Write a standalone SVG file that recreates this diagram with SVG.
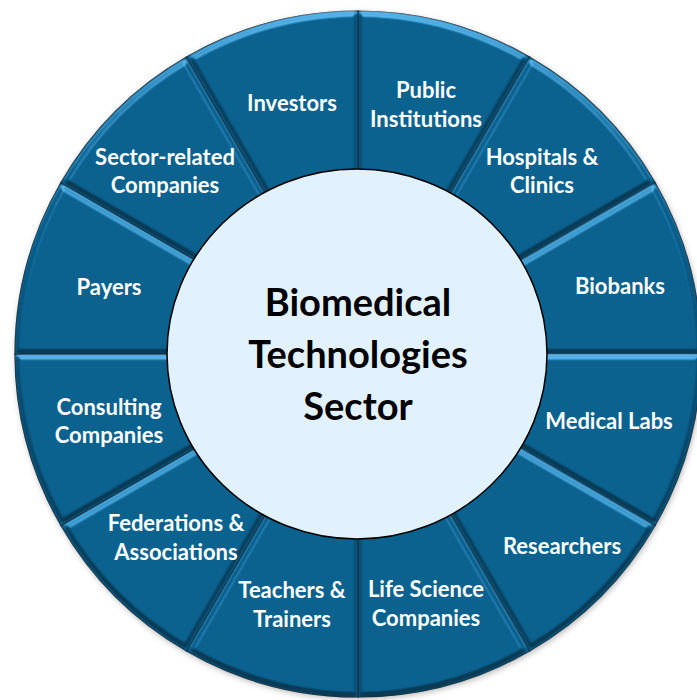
<svg xmlns="http://www.w3.org/2000/svg" width="697" height="700" viewBox="0 0 697 700">
<defs>
<style>
.seg{fill:#0B6290;stroke:#163F58;stroke-width:1.2;filter:url(#bevel)}
.lbl{font-family:Lato,"Liberation Sans",sans-serif;font-weight:700;font-size:22px;fill:#ffffff;text-anchor:middle}
.ctr{font-family:Lato,"Liberation Sans",sans-serif;font-weight:700;font-size:38px;fill:#000000;text-anchor:middle}
</style>
<filter id="bevel" x="-5%" y="-5%" width="110%" height="110%" color-interpolation-filters="sRGB">
<feMorphology in="SourceAlpha" operator="erode" radius="2.5" result="e"/>
<feGaussianBlur in="e" stdDeviation="1.5" result="b"/>
<feDiffuseLighting in="b" surfaceScale="3" diffuseConstant="1" lighting-color="#ffffff" result="d">
<feDistantLight azimuth="270" elevation="45"/>
</feDiffuseLighting>
<feComponentTransfer in="d" result="hi">
<feFuncR type="linear" slope="1.0" intercept="-0.707"/>
<feFuncG type="linear" slope="1.1" intercept="-0.778"/>
<feFuncB type="linear" slope="1.2" intercept="-0.848"/>
</feComponentTransfer>
<feComponentTransfer in="d" result="lo">
<feFuncR type="linear" slope="0.566" intercept="0.6"/>
<feFuncG type="linear" slope="0.566" intercept="0.6"/>
<feFuncB type="linear" slope="0.566" intercept="0.6"/>
</feComponentTransfer>
<feComposite in="SourceGraphic" in2="lo" operator="arithmetic" k1="1" result="m"/>
<feComposite in="m" in2="hi" operator="arithmetic" k2="1" k3="1" result="a"/>
<feComposite in="a" in2="SourceAlpha" operator="in"/>
</filter>
<filter id="shadow" x="-10%" y="-10%" width="120%" height="120%">
<feGaussianBlur stdDeviation="3"/>
</filter>
</defs>
<rect width="697" height="700" fill="#ffffff"/>
<circle cx="359" cy="356" r="343" fill="#000000" opacity="0.3" filter="url(#shadow)"/>

<g id="public-institutions">
<path class="seg" d="M358,11 A343,343 0 0 1 529.5,56.95 L443,206.78 A170,170 0 0 0 358,184 Z"/>
<text class="lbl" x="426" y="98">Public</text>
<text class="lbl" x="426" y="127">Institutions</text>
</g>
<g id="hospitals-clinics">
<path class="seg" d="M529.5,56.95 A343,343 0 0 1 655.05,182.5 L505.22,269 A170,170 0 0 0 443,206.78 Z"/>
<text class="lbl" x="542" y="165">Hospitals &amp;</text>
<text class="lbl" x="542" y="193">Clinics</text>
</g>
<g id="biobanks">
<path class="seg" d="M655.05,182.5 A343,343 0 0 1 701,354 L528,354 A170,170 0 0 0 505.22,269 Z"/>
<text class="lbl" x="620" y="294">Biobanks</text>
</g>
<g id="medical-labs">
<path class="seg" d="M701,354 A343,343 0 0 1 655.05,525.5 L505.22,439 A170,170 0 0 0 528,354 Z"/>
<text class="lbl" x="609" y="429">Medical Labs</text>
</g>
<g id="researchers">
<path class="seg" d="M655.05,525.5 A343,343 0 0 1 529.5,651.05 L443,501.22 A170,170 0 0 0 505.22,439 Z"/>
<text class="lbl" x="562" y="554">Researchers</text>
</g>
<g id="life-science-companies">
<path class="seg" d="M529.5,651.05 A343,343 0 0 1 358,697 L358,524 A170,170 0 0 0 443,501.22 Z"/>
<text class="lbl" x="426" y="597">Life Science</text>
<text class="lbl" x="426" y="626">Companies</text>
</g>
<g id="teachers-trainers">
<path class="seg" d="M358,697 A343,343 0 0 1 186.5,651.05 L273,501.22 A170,170 0 0 0 358,524 Z"/>
<text class="lbl" x="292" y="598">Teachers &amp;</text>
<text class="lbl" x="292" y="627">Trainers</text>
</g>
<g id="federations-associations">
<path class="seg" d="M186.5,651.05 A343,343 0 0 1 60.95,525.5 L210.78,439 A170,170 0 0 0 273,501.22 Z"/>
<text class="lbl" x="176" y="531">Federations &amp;</text>
<text class="lbl" x="176" y="560">Associations</text>
</g>
<g id="consulting-companies">
<path class="seg" d="M60.95,525.5 A343,343 0 0 1 15,354 L188,354 A170,170 0 0 0 210.78,439 Z"/>
<text class="lbl" x="109" y="415">Consulting</text>
<text class="lbl" x="109" y="443">Companies</text>
</g>
<g id="payers">
<path class="seg" d="M15,354 A343,343 0 0 1 60.95,182.5 L210.78,269 A170,170 0 0 0 188,354 Z"/>
<text class="lbl" x="109" y="295">Payers</text>
</g>
<g id="sector-related-companies">
<path class="seg" d="M60.95,182.5 A343,343 0 0 1 186.5,56.95 L273,206.78 A170,170 0 0 0 210.78,269 Z"/>
<text class="lbl" x="165" y="165">Sector-related</text>
<text class="lbl" x="165" y="193">Companies</text>
</g>
<g id="investors">
<path class="seg" d="M186.5,56.95 A343,343 0 0 1 358,11 L358,184 A170,170 0 0 0 273,206.78 Z"/>
<text class="lbl" x="292" y="111">Investors</text>
</g>

<g id="biomedical-technologies-sector">
<ellipse cx="357" cy="354" rx="190" ry="185" fill="#E1F2FE" stroke="#000000" stroke-width="1.5"/>
<text class="ctr" x="358" y="316">Biomedical</text>
<text class="ctr" x="358" y="368">Technologies</text>
<text class="ctr" x="358" y="420">Sector</text>
</g>
</svg>
